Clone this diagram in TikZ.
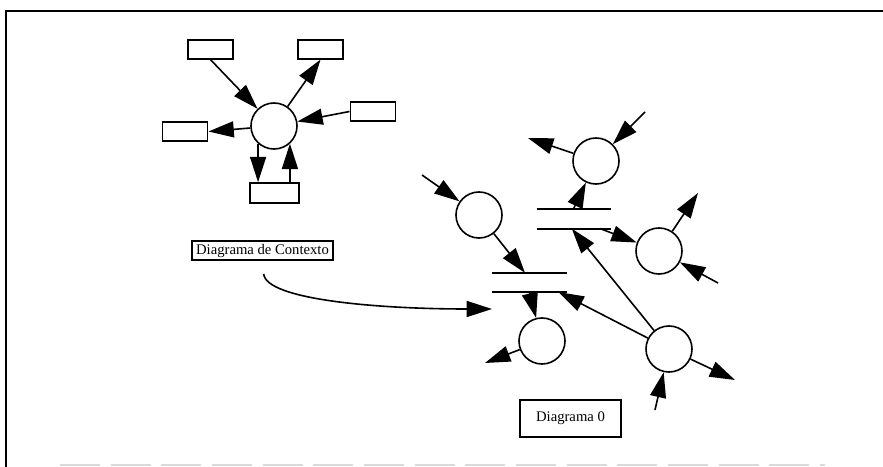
\documentclass[tikz,border=0pt]{standalone}
\usepackage{fontspec}
\setmainfont{Liberation Serif}
\usetikzlibrary{arrows.meta,calc}

\tikzset{
  proc/.style={draw,circle,line width=1.2pt,minimum size=34.5pt,inner sep=0pt},
  ent/.style={draw,rectangle,line width=1.2pt,inner sep=0pt,minimum width=34pt,minimum height=14pt},
  store/.style={rectangle,minimum width=55.5pt,minimum height=14pt,inner sep=0pt},
  flow/.style={line width=1.2pt,-{Triangle[length=19pt,width=12pt]}},
  lbl/.style={draw,line width=1.2pt,font=\fontsize{11}{13}\selectfont,inner xsep=3pt,inner ysep=2pt}
}

\begin{document}
\begin{tikzpicture}[x=0.75pt,y=0.75pt,yscale=-1,xscale=1]
\useasboundingbox (0,0) rectangle (883,467);

%Frame
\draw[line width=1.3pt] (6,467) -- (6,11) -- (883,11) ;
\draw[gray!30,line width=0.8pt,dash pattern=on 30pt off 8pt] (60,465) -- (825,465) ;

%Context diagram
\node[proc] (c0) at (274,126) {};
\node[ent] (tl) at (210.5,49.5) {};
\node[ent] (tr) at (320.5,49.5) {};
\node[ent] (rb) at (373,111.5) {};
\node[ent] (lb) at (185,131.5) {};
\node[ent,minimum width=37pt,minimum height=15pt] (bb) at (274.5,193) {};

\draw[flow] (tl.south) -- (c0) ;
\draw[flow] (c0) -- (tr.south) ;
\draw[flow] (rb.west) -- (c0) ;
\draw[flow] (c0) -- (lb.east) ;
\draw[flow] (c0.-132) -- (c0.-132 |- bb.north) ;
\draw[flow] (bb.north -| c0.-48) -- (c0.-48) ;

% Text Node
\node[lbl] (ctxlbl) at (262.5,250.5) {Diagrama de Contexto};

%Diagram 0
\node[proc] (c1) at (479,215) {};
\node[proc] (c2) at (596,161) {};
\node[proc] (c3) at (659,251) {};
\node[proc] (c4) at (542,341) {};
\node[proc] (c5) at (669,349) {};

\node[store] (sA) at (574,219) {};
\node[store] (sB) at (529.5,282.5) {};
\foreach \s in {sA,sB} {
  \draw[line width=1.4pt] (\s.north west) -- (\s.north east) ;
  \draw[line width=1.4pt] (\s.south west) -- (\s.south east) ;
}

%free ends
\coordinate (in1) at (422,175);
\coordinate (out2) at (528,138);
\coordinate (in2) at (645,112);
\coordinate (out3) at (698,193);
\coordinate (in3) at (718,283);
\coordinate (out4) at (485,363);
\coordinate (out5) at (735,380);
\coordinate (in5) at (655,410);
\coordinate (ctxend) at (492,309);

\draw[flow] (in1) -- (c1) ;
\draw[flow] (c1) -- ($(sB.north west)!0.44!(sB.north east)$) ;
\draw[flow] ($(sA.north west)!0.49!(sA.north east)$) -- (c2) ;
\draw[flow] (c2) -- (out2) ;
\draw[flow] (in2) -- (c2) ;
\draw[flow] ($(sA.south west)!0.85!(sA.south east)$) -- (c3) ;
\draw[flow] (c3) -- (out3) ;
\draw[flow] (in3) -- (c3) ;
\draw[flow] (c5) -- ($(sA.south west)!0.47!(sA.south east)$) ;
\draw[flow] (c5) -- ($(sB.south west)!0.89!(sB.south east)$) ;
\draw[flow] ($(sB.south west)!0.5!(sB.south east)$) -- (c4) ;
\draw[flow] (c4) -- (out4) ;
\draw[flow] (c5) -- (out5) ;
\draw[flow] (in5) -- (c5) ;

%curved pointer
\draw[flow,shorten <=10pt] (ctxlbl.south) .. controls (266,300) and (380,309) .. (ctxend) ;

% Text Node
\node[lbl,minimum width=76pt,minimum height=28pt] (d0lbl) at (570.5,418.5) {Diagrama 0};

\end{tikzpicture}
\end{document}
